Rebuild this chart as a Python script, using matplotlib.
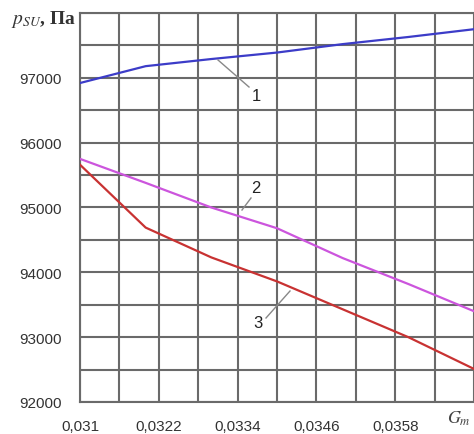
import matplotlib
matplotlib.use("Agg")
import matplotlib.pyplot as plt
import numpy as np

matplotlib.rcParams["mathtext.fontset"] = "stix"

# Data
x_vals = [0.031, 0.032, 0.033, 0.034, 0.035, 0.036, 0.037]
curve1 = [96920, 97180, 97290, 97390, 97520, 97630, 97750]
curve2 = [95750, 95380, 95000, 94680, 94220, 93820, 93400]
curve3 = [95660, 94690, 94230, 93860, 93430, 93000, 92510]

x_label_ticks = [0.031, 0.0322, 0.0334, 0.0346, 0.0358]
x_tick_labels = ["0,031", "0,0322", "0,0334", "0,0346", "0,0358"]
y_label_ticks = [92000, 93000, 94000, 95000, 96000, 97000]
y_tick_labels = ["92000", "93000", "94000", "95000", "96000", "97000"]

W, H = 474, 435
fig = plt.figure(figsize=(W / 100, H / 100), dpi=100)
ax = fig.add_axes([80 / W, 1 - 403 / H, (W - 80) / W, (403 - 14) / H])

ax.set_xlim(0.031, 0.037)
ax.set_ylim(92000, 98000)

gc = "#6a6a6a"
for xv in np.arange(0.031, 0.03701, 0.0006):
    ax.axvline(xv, color=gc, lw=1.5, zorder=1)
for yv in np.arange(92000, 98001, 500):
    ax.axhline(yv, color=gc, lw=1.5, zorder=1)

ax.plot(x_vals, curve1, color="#3c3cc8", lw=1.6, zorder=3)
ax.plot(x_vals, curve2, color="#cc55dd", lw=1.6, zorder=3)
ax.plot(x_vals, curve3, color="#c83232", lw=1.6, zorder=3)

ax.set_xticks(x_label_ticks)
ax.set_xticklabels(x_tick_labels)
ax.set_yticks(y_label_ticks)
ax.set_yticklabels(y_tick_labels)
ax.tick_params(length=0, labelsize=11, colors="#333333")
ax.tick_params(axis="x", pad=12)
ax.tick_params(axis="y", pad=13)
for lab in ax.get_xticklabels() + ax.get_yticklabels():
    lab.set_fontfamily("Liberation Sans")

for s in ["top", "left", "bottom"]:
    ax.spines[s].set_color(gc)
    ax.spines[s].set_linewidth(1.5)
ax.spines["right"].set_visible(False)

# annotations (pixel -> data via transforms)
def px2data(px, py):
    disp = (px, H - py)
    return ax.transData.inverted().transform(disp)

def leader(p0, p1):
    a = px2data(*p0)
    b = px2data(*p1)
    ax.plot([a[0], b[0]], [a[1], b[1]], color="#888888", lw=1.0, zorder=4)

leader((218, 61), (249, 88))
leader((242, 211), (251, 199))
leader((290, 292), (266, 319))

for txt, (px, py) in [("1", (256, 97)), ("2", (256, 189)), ("3", (258, 324))]:
    d = px2data(px, py)
    ax.text(d[0], d[1], txt, fontsize=12, color="#222222", ha="center",
            va="center", family="Liberation Sans", zorder=5)

fig.text(11 / W, 1 - 20 / H, r"$p_{SU}$, Па", fontsize=14, family="Liberation Serif",
         ha="left", va="center", color="#333333", fontweight="bold")
fig.text(471 / W, 1 - 419 / H, r"$G_{m}$", fontsize=13, ha="right", va="center",
         color="#444444")

fig.savefig("out.png", dpi=100)
